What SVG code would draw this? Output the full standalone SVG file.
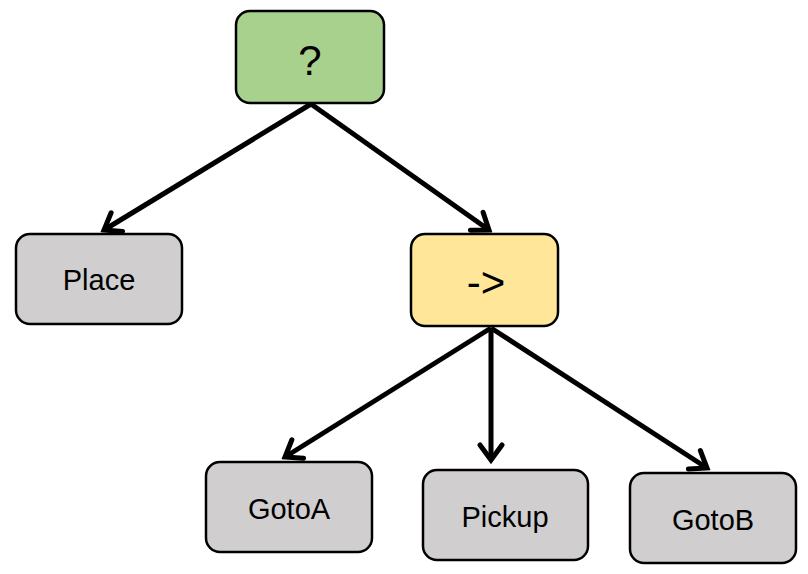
<svg xmlns="http://www.w3.org/2000/svg" width="808" height="574" viewBox="0 0 808 574">
<style>
.node rect{stroke:#000;stroke-width:2.5}
.node text{font-family:"Liberation Sans",Arial,sans-serif;font-size:29px;fill:#000;text-anchor:middle;dominant-baseline:central}
.gray{fill:#d0cece}
.edge{stroke:#000;stroke-width:5;fill:none}
</style>
<defs>
<marker id="ah" markerUnits="userSpaceOnUse" viewBox="-20 -14 24 28" markerWidth="24" markerHeight="28" refX="0" refY="0" orient="auto">
<path d="M-15,-11 L0,0 L-15,11" fill="none" stroke="#000" stroke-width="5" stroke-linecap="round" stroke-linejoin="miter"/>
</marker>
</defs>
<g id="connectors">
<line class="edge" x1="311" y1="104" x2="104" y2="230" marker-end="url(#ah)"/>
<line class="edge" x1="311" y1="104" x2="489" y2="230" marker-end="url(#ah)"/>
<line class="edge" x1="491" y1="328" x2="285" y2="457" marker-end="url(#ah)"/>
<line class="edge" x1="491" y1="328" x2="491" y2="460" marker-end="url(#ah)"/>
<line class="edge" x1="491" y1="328" x2="707" y2="468" marker-end="url(#ah)"/>
</g>
<g id="root" class="node">
<rect x="236" y="11" width="148" height="92" rx="14" fill="#a9d18e"/>
<text x="310" y="60" style="font-size:42px">?</text>
</g>
<g id="place" class="node">
<rect x="16" y="234" width="166" height="90" rx="14" class="gray"/>
<text x="99" y="280">Place</text>
</g>
<g id="seq" class="node">
<rect x="411" y="234" width="147" height="92" rx="14" fill="#ffe699"/>
<text x="486" y="282" style="font-size:42px">-&gt;</text>
</g>
<g id="gotoa" class="node">
<rect x="206" y="462" width="166" height="90" rx="14" class="gray"/>
<text x="289" y="509">GotoA</text>
</g>
<g id="pickup" class="node">
<rect x="423" y="470" width="165" height="90" rx="14" class="gray"/>
<text x="505" y="517">Pickup</text>
</g>
<g id="gotob" class="node">
<rect x="630" y="473" width="166" height="90" rx="14" class="gray"/>
<text x="713" y="520">GotoB</text>
</g>
</svg>
